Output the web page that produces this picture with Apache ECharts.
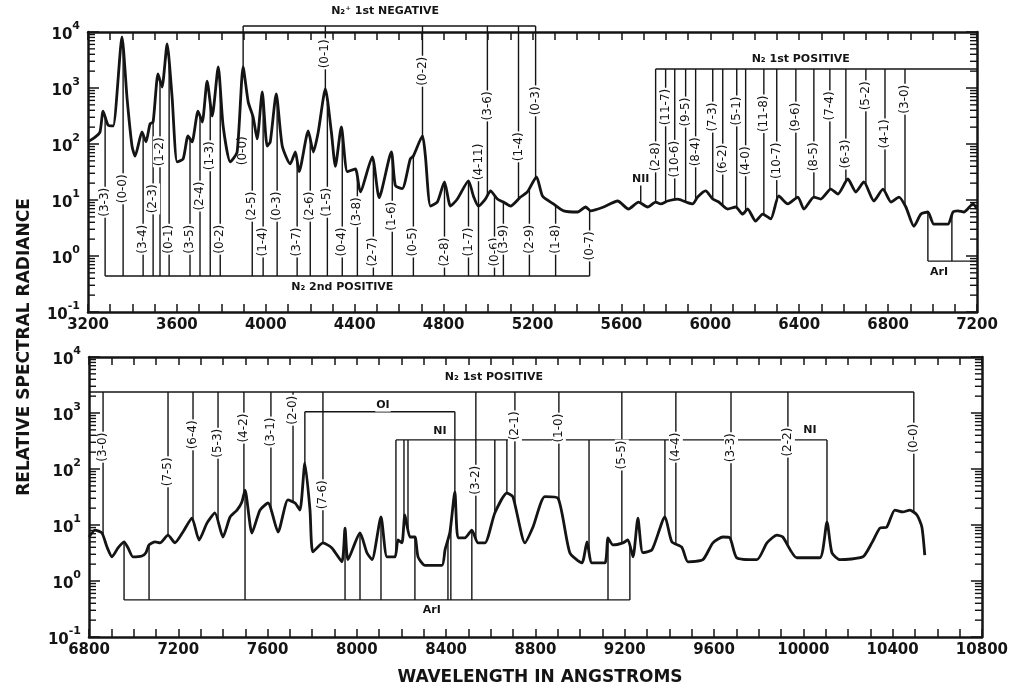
<!DOCTYPE html>
<html>
<head>
<meta charset="utf-8">
<script src="https://cdn.jsdelivr.net/npm/echarts@6/dist/echarts.min.js"></script>
<style>
  html, body { margin: 0; background: #fff; }
  #chart { width: 1011px; height: 690px; }
</style>
</head>
<body>
<div id="chart"></div>
<script>
// ---- upper panel spectrum (3200-7200 A) ----
const topWave = [3200, 3232, 3254, 3268, 3290, 3313, 3353, 3376, 3398, 3412, 3443, 3461, 3479, 3493, 3515, 3533, 3556, 3578,
  3601, 3628, 3650, 3668, 3695, 3714, 3736, 3759, 3786, 3808, 3840, 3871, 3898, 3921, 3943, 3961, 3984, 4006, 4020, 4047,
  4074, 4110, 4133, 4150, 4191, 4214, 4236, 4268, 4295, 4313, 4340, 4367, 4403, 4425, 4479, 4510, 4565, 4583, 4614, 4650,
  4664, 4705, 4718, 4741, 4772, 4804, 4831, 4862, 4912, 4934, 4957, 4988, 5011, 5042, 5069, 5101, 5146, 5177, 5218, 5245,
  5294, 5340, 5403, 5439, 5461, 5520, 5583, 5632, 5677, 5718, 5754, 5777, 5808, 5853, 5898, 5921, 5943, 5979, 6011, 6038,
  6078, 6114, 6146, 6168, 6204, 6236, 6272, 6308, 6349, 6394, 6421, 6466, 6497, 6542, 6574, 6619, 6655, 6691, 6736, 6777,
  6813, 6849, 6880, 6916, 6948, 6979, 7006, 7069, 7092, 7114, 7141, 7182, 7200];
const topRad = [110, 133, 164, 388, 218, 210, 8150, 637, 92, 61, 164, 109, 228, 247, 1780, 1040, 6100, 720,
  48, 54, 139, 109, 388, 247, 1330, 316, 2370, 210, 48, 72, 2370, 560, 303, 123, 849, 92, 109, 781,
  92, 44, 72, 32, 171, 72, 164, 960, 164, 40, 201, 32, 36, 14, 59, 11, 72, 18, 16, 54,
  61, 139, 61, 7.8, 9.2, 21, 7.8, 10.4, 22, 11.8, 7.8, 10.4, 14.5, 10.4, 9.2, 7.8, 11.3, 13.9, 25.8, 11.8,
  8.5, 6.4, 6.1, 7.5, 6.4, 7.5, 9.6, 6.9, 9.2, 7.5, 9.2, 8.5, 9.6, 10.4, 9.0, 8.5, 11.3, 14.5, 10.4, 9.2,
  6.9, 7.5, 5.6, 6.9, 4.2, 5.6, 4.6, 11.8, 8.5, 11.3, 6.9, 11.3, 10.4, 15.7, 12.8, 23.7, 13.9, 21, 9.6, 15.7,
  9.2, 11.3, 7.5, 3.4, 5.6, 6.1, 3.7, 3.7, 6.1, 6.4, 6.1, 8.5, 6.9];

// ---- lower panel spectrum (6800-10800 A) ----
const botWave = [6800, 6827, 6858, 6881, 6903, 6930, 6957, 6975, 6997, 7037, 7055, 7069, 7096, 7118, 7154, 7185, 7221, 7261,
  7293, 7329, 7364, 7400, 7432, 7463, 7485, 7499, 7530, 7566, 7602, 7647, 7691, 7723, 7745, 7767, 7790, 7803, 7848, 7888,
  7933, 7947, 7960, 8014, 8045, 8068, 8108, 8135, 8171, 8184, 8202, 8215, 8238, 8260, 8274, 8305, 8381, 8395, 8417, 8439,
  8453, 8484, 8515, 8542, 8574, 8618, 8672, 8699, 8753, 8789, 8842, 8901, 8954, 9008, 9031, 9053, 9111, 9125, 9147, 9192,
  9214, 9237, 9259, 9281, 9322, 9380, 9411, 9456, 9483, 9550, 9595, 9640, 9671, 9702, 9792, 9837, 9882, 9908, 9971, 10074,
  10106, 10128, 10164, 10267, 10307, 10343, 10374, 10410, 10446, 10477, 10509, 10531, 10544];
const botRad = [6.1, 8.1, 7.2, 4.0, 2.7, 3.9, 5.0, 3.9, 2.7, 2.8, 3.2, 4.4, 5.0, 4.8, 6.6, 4.8, 7.5, 13.3,
  5.4, 10.9, 16.4, 6.1, 13.9, 18.5, 25.8, 42, 7.2, 18.5, 24.7, 7.5, 28, 24.7, 18.5, 128, 18.5, 3.3, 4.8, 3.9,
  2.2, 8.8, 2.4, 7.2, 3.2, 2.4, 13.9, 2.7, 2.7, 5.4, 4.8, 15.1, 6.1, 6.1, 2.7, 1.9, 1.9, 3.6, 7.5, 39,
  5.9, 5.9, 8.1, 4.8, 4.8, 16.4, 37, 32, 4.8, 9.2, 32, 30, 3.2, 2.1, 5.0, 2.1, 2.1, 5.9, 4.4, 4.8,
  5.4, 2.7, 13.3, 3.2, 3.6, 13.9, 5.0, 4.0, 2.2, 2.4, 4.8, 6.1, 5.9, 2.6, 2.4, 4.8, 6.6, 6.1, 2.6, 2.6,
  11.3, 3.2, 2.4, 2.7, 4.8, 8.8, 9.2, 18.5, 17.1, 18.5, 15.1, 9.2, 2.9];

// ---- band identifications, upper panel (label heights are log10 radiance) ----
const secondPosWave = [3277, 3358, 3448, 3493, 3524, 3565, 3659, 3704, 3750, 3795, 3939, 3988, 4051, 4141, 4200, 4277,
  4344, 4412, 4484, 4569, 4664, 4804, 4912, 4957, 5029, 5069, 5186, 5304, 5457];
const secondPosBand = ['(3-3)', '(0-0)', '(3-4)', '(2-3)', '(1-2)', '(0-1)', '(3-5)', '(2-4)', '(1-3)', '(0-2)', '(2-5)',
  '(1-4)', '(0-3)', '(3-7)', '(2-6)', '(1-5)', '(0-4)', '(3-8)', '(2-7)', '(1-6)', '(0-5)', '(2-8)', '(1-7)', '(4-11)',
  '(0-6)', '(3-9)', '(2-9)', '(1-8)', '(0-7)'];
const secondPosLabelLog = [0.96, 1.20, 0.30, 1.02, 1.86, 0.30, 0.30, 1.07, 1.79, 0.30, 0.89, 0.25, 0.89, 0.25, 0.89, 0.96,
  0.25, 0.79, 0.07, 0.71, 0.25, 0.07, 0.25, 1.68, 0.07, 0.30, 0.30, 0.30, 0.18];
const secondPosBase = 0.44;

const firstNegWave = [3898, 4268, 4705, 4997, 5137, 5214];
const firstNegBand = ['(0-0)', '(0-1)', '(0-2)', '(3-6)', '(1-4)', '(0-3)'];
const firstNegLabelLog = [1.88, 3.61, 3.30, 2.68, 1.95, 2.77];
const firstNegLevel = 12800;

const firstPosTopWave = [5754, 5799, 5840, 5889, 5934, 6011, 6056, 6119, 6159, 6241, 6299, 6385, 6466, 6538, 6610, 6700,
  6786, 6876];
const firstPosTopBand = ['(2-8)', '(11-7)', '(10-6)', '(9-5)', '(8-4)', '(7-3)', '(6-2)', '(5-1)', '(4-0)', '(11-8)',
  '(10-7)', '(9-6)', '(8-5)', '(7-4)', '(6-3)', '(5-2)', '(4-1)', '(3-0)'];
const firstPosTopLabelLog = [1.77, 2.66, 1.73, 2.57, 1.86, 2.48, 1.73, 2.59, 1.70, 2.54, 1.70, 2.48, 1.77, 2.68, 1.82,
  2.86, 2.18, 2.80];
const firstPosTopLevel = 2180;

const nIIWave = 5687;
const nIILabelLog = 1.375;
const arTopWave = [6979, 7087];
const arTopBase = 0.81;

// ---- band identifications, lower panel ----
const firstPosBotWave = [6863, 7154, 7266, 7378, 7494, 7615, 7714, 7848, 8533, 8708, 8905, 9187, 9429, 9676, 9931, 10495];
const firstPosBotBand = ['(3-0)', '(7-5)', '(6-4)', '(5-3)', '(4-2)', '(3-1)', '(2-0)', '(7-6)', '(3-2)', '(2-1)',
  '(1-0)', '(5-5)', '(4-4)', '(3-3)', '(2-2)', '(0-0)'];
const firstPosBotLabelLog = [2.39, 1.95, 2.61, 2.46, 2.73, 2.66, 3.05, 1.54, 1.80, 2.77, 2.73, 2.25, 2.39, 2.38, 2.48, 2.55];
const firstPosBotLevel = 2370;

const oIWave = [7767, 8439];
const oILevel = 1050;
const nIWave = [8175, 8211, 8229, 8618, 8672, 9040, 9380, 10106];
const nILevel = 331;
const arBotWave = [6957, 7069, 7499, 7947, 8014, 8108, 8260, 8408, 8421, 8515, 9125, 9223];
const arBotBase = 0.46;

const ink = '#141414';
const labelFont = '12px "DejaVu Sans"';
const tagFont = 'bold 11px "DejaVu Sans"';

function curveAt(xs, ys, w) {
  if (w <= xs[0]) return ys[0];
  for (let i = 1; i < xs.length; i++) {
    if (w <= xs[i]) {
      const t = (w - xs[i - 1]) / (xs[i] - xs[i - 1]);
      const a = Math.log10(ys[i - 1]), b = Math.log10(ys[i]);
      return Math.pow(10, a + t * (b - a));
    }
  }
  return ys[ys.length - 1];
}

// bands marked by lines rising from a bracket below the spectrum
function riseFrom(m, cw, cr, waves, base, names, lblLog, from, to) {
  waves.forEach((w, i) => {
    let top = curveAt(cw, cr, w);
    if (lblLog) top = Math.max(top, Math.pow(10, lblLog[i]));
    m.segs.push([w, base, w, top]);
    if (names) m.texts.push({ w, v: Math.pow(10, lblLog[i]), text: names[i], rot: true });
  });
  m.segs.push([from, base, to, base]);
}

// bands marked by lines dropping from a bracket above the spectrum
function dropFrom(m, cw, cr, waves, level, names, lblLog, from, to) {
  waves.forEach((w, i) => {
    m.segs.push([w, level, w, curveAt(cw, cr, w)]);
    if (names) m.texts.push({ w, v: Math.pow(10, lblLog[i]), text: names[i], rot: true });
  });
  m.segs.push([from, level, to, level]);
}

const topMarks = { segs: [], texts: [] };
riseFrom(topMarks, topWave, topRad, secondPosWave, secondPosBase, secondPosBand, secondPosLabelLog, 3277, 5457);
dropFrom(topMarks, topWave, topRad, firstNegWave, firstNegLevel, firstNegBand, firstNegLabelLog, 3898, 5214);
dropFrom(topMarks, topWave, topRad, firstPosTopWave, firstPosTopLevel, firstPosTopBand, firstPosTopLabelLog, 5754, 7200);
riseFrom(topMarks, topWave, topRad, arTopWave, arTopBase, null, null, 6979, 7200);
topMarks.segs.push([nIIWave, Math.pow(10, nIILabelLog), nIIWave, curveAt(topWave, topRad, nIIWave)]);
topMarks.texts.push({ w: nIIWave, v: Math.pow(10, nIILabelLog), text: 'NII', rot: false });
topMarks.texts.push({ w: 4537, v: Math.pow(10, 4.375), text: 'N₂⁺ 1st NEGATIVE', rot: false });
topMarks.texts.push({ w: 6407, v: Math.pow(10, 3.52), text: 'N₂ 1st POSITIVE', rot: false });
topMarks.texts.push({ w: 4344, v: Math.pow(10, -0.55), text: 'N₂ 2nd POSITIVE', rot: false });
topMarks.texts.push({ w: 7029, v: Math.pow(10, -0.29), text: 'ArI', rot: false });

const botMarks = { segs: [], texts: [] };
dropFrom(botMarks, botWave, botRad, nIWave, nILevel, null, null, 8175, 10106);
dropFrom(botMarks, botWave, botRad, oIWave, oILevel, null, null, 7767, 8439);
dropFrom(botMarks, botWave, botRad, firstPosBotWave, firstPosBotLevel, firstPosBotBand, firstPosBotLabelLog, 6800, 10495);
riseFrom(botMarks, botWave, botRad, arBotWave, arBotBase, null, null, 6957, 9223);
botMarks.texts.push({ w: 8614, v: Math.pow(10, 3.64), text: 'N₂ 1st POSITIVE', rot: false });
botMarks.texts.push({ w: 8117, v: Math.pow(10, 3.14), text: 'OI', rot: false });
botMarks.texts.push({ w: 8372, v: Math.pow(10, 2.68), text: 'NI', rot: false });
botMarks.texts.push({ w: 10030, v: Math.pow(10, 2.70), text: 'NI', rot: false });
botMarks.texts.push({ w: 8336, v: Math.pow(10, -0.52), text: 'ArI', rot: false });

// log-paper minor ticks (2..9 in each decade)
const minorY = [];
for (let k = -1; k < 4; k++) for (let m = 2; m <= 9; m++) minorY.push(m * Math.pow(10, k));

const frameLine = { show: true, lineStyle: { color: ink, width: 2.5 } };

function xAxisOf(gi, pos, min, max, withLabels) {
  return {
    type: 'value', gridIndex: gi, position: pos, min, max, interval: 100,
    axisLine: frameLine,
    axisTick: { inside: true, length: 8, lineStyle: { color: ink, width: 1.5 } },
    splitLine: { show: false },
    axisLabel: withLabels ? {
      margin: 6, color: ink, fontFamily: 'DejaVu Sans', fontWeight: 'bold', fontSize: 15,
      formatter: v => (v % 400 === 0 ? String(v) : '')
    } : { show: false }
  };
}

function yAxisOf(gi, pos, withLabels) {
  return {
    type: 'log', logBase: 10, gridIndex: gi, position: pos, min: 0.1, max: 10000,
    axisLine: frameLine,
    axisTick: { inside: true, length: 11, lineStyle: { color: ink, width: 1.5 } },
    splitLine: { show: false },
    axisLabel: withLabels ? {
      margin: 8, color: ink,
      formatter: v => '{b|10}{s|' + Math.round(Math.log10(v)) + '}',
      rich: {
        b: { fontFamily: 'DejaVu Sans', fontWeight: 'bold', fontSize: 15, lineHeight: 22, verticalAlign: 'bottom', color: ink },
        s: { fontFamily: 'DejaVu Sans', fontWeight: 'bold', fontSize: 11, lineHeight: 22, verticalAlign: 'top', color: ink }
      }
    } : { show: false }
  };
}

function spectrum(xi, yi, xs, ys) {
  return {
    type: 'line', xAxisIndex: xi, yAxisIndex: yi, z: 6,
    data: xs.map((x, i) => [x, ys[i]]),
    showSymbol: false, smooth: 0.2,
    lineStyle: { color: ink, width: 2.8 }
  };
}

function segSeries(xi, yi, marks) {
  return {
    type: 'custom', xAxisIndex: xi, yAxisIndex: yi, silent: true, z: 3,
    data: marks.segs, encode: { x: [0, 2], y: [1, 3] },
    renderItem: (params, api) => {
      const a = api.coord([api.value(0), api.value(1)]);
      const b = api.coord([api.value(2), api.value(3)]);
      return { type: 'line', shape: { x1: a[0], y1: a[1], x2: b[0], y2: b[1] },
        style: { stroke: ink, lineWidth: 1.4 } };
    }
  };
}

function textSeries(xi, yi, marks) {
  return {
    type: 'custom', xAxisIndex: xi, yAxisIndex: yi, silent: true, z: 4,
    data: marks.texts.map(t => [t.w, t.v]), encode: { x: 0, y: 1 },
    renderItem: (params, api) => {
      const t = marks.texts[params.dataIndex];
      const p = api.coord([api.value(0), api.value(1)]);
      return { type: 'text', x: p[0], y: p[1], rotation: t.rot ? Math.PI / 2 : 0,
        style: { text: t.text, align: 'center', verticalAlign: 'middle', fill: ink,
          font: t.rot ? labelFont : tagFont, backgroundColor: '#fff', padding: [1, 1] } };
    }
  };
}

function minorTicks(xi, yi, xmin, xmax) {
  return {
    type: 'custom', xAxisIndex: xi, yAxisIndex: yi, silent: true, z: 7,
    data: minorY.map(v => [xmin, v]), encode: { x: 0, y: 1 },
    renderItem: (params, api) => {
      const a = api.coord([xmin, api.value(1)]);
      const b = api.coord([xmax, api.value(1)]);
      return { type: 'group', children: [
        { type: 'line', shape: { x1: a[0], y1: a[1], x2: a[0] + 7, y2: a[1] }, style: { stroke: ink, lineWidth: 1.4 } },
        { type: 'line', shape: { x1: b[0], y1: b[1], x2: b[0] - 7, y2: b[1] }, style: { stroke: ink, lineWidth: 1.4 } }
      ] };
    }
  };
}

const chart = echarts.init(document.getElementById('chart'));
chart.setOption({
  animation: false,
  backgroundColor: '#fff',
  grid: [
    { left: 88, top: 32, width: 889, height: 280 },
    { left: 89, top: 357, width: 893, height: 280 }
  ],
  xAxis: [
    xAxisOf(0, 'bottom', 3200, 7200, true),
    xAxisOf(0, 'top', 3200, 7200, false),
    xAxisOf(1, 'bottom', 6800, 10800, true),
    xAxisOf(1, 'top', 6800, 10800, false)
  ],
  yAxis: [
    yAxisOf(0, 'left', true),
    yAxisOf(0, 'right', false),
    yAxisOf(1, 'left', true),
    yAxisOf(1, 'right', false)
  ],
  graphic: [
    { type: 'text', x: 25, y: 347, rotation: Math.PI / 2,
      style: { text: 'RELATIVE SPECTRAL RADIANCE', align: 'center', verticalAlign: 'middle',
        font: 'bold 17px "DejaVu Sans"', fill: ink } },
    { type: 'text', x: 540, y: 678,
      style: { text: 'WAVELENGTH IN ANGSTROMS', align: 'center', verticalAlign: 'middle',
        font: 'bold 17px "DejaVu Sans"', fill: ink } }
  ],
  series: [
    segSeries(0, 0, topMarks),
    textSeries(0, 0, topMarks),
    spectrum(0, 0, topWave, topRad),
    minorTicks(0, 0, 3200, 7200),
    segSeries(2, 2, botMarks),
    textSeries(2, 2, botMarks),
    spectrum(2, 2, botWave, botRad),
    minorTicks(2, 2, 6800, 10800)
  ]
});
</script>
</body>
</html>
